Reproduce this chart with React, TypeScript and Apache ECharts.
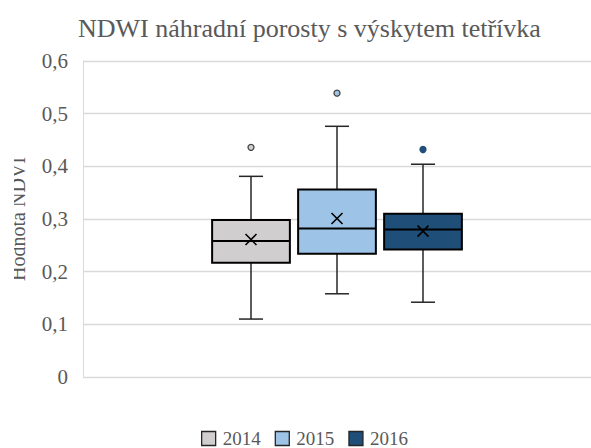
import React, { useEffect, useRef } from 'react';
import * as echarts from 'echarts';

// ---- data ----
const years = ['2014', '2015', '2016'];
const whiskerMin = [0.11, 0.158, 0.142];
const quartile1 = [0.217, 0.234, 0.242];
const medians = [0.258, 0.282, 0.28];
const quartile3 = [0.298, 0.356, 0.31];
const whiskerMax = [0.381, 0.476, 0.404];
const means = [0.261, 0.301, 0.277];
const outliers = [0.436, 0.539, 0.432];
const yMin = 0;
const yMax = 0.6;
const yStep = 0.1;

const fills = ['#D0CECE', '#9DC3E6', '#1F4E79'];
const outlineOutlier = ['#404040', '#404040', '#1F4E79'];

const SERIF = '"Liberation Serif", "Times New Roman", serif';
const GRAY = '#595959';
const GRID_COLOR = '#D9D9D9';

const renderBox = (params: any, api: any) => {
  const x = api.value(0);
  const band = api.size([1, 0])[0];
  const half = band * 0.452;
  const cap = band * 0.14;
  const pt = (i: number) => api.coord([x, api.value(i)]);
  const pMin = pt(1);
  const pQ1 = pt(2);
  const pMed = pt(3);
  const pQ3 = pt(4);
  const pMax = pt(5);
  const pMean = pt(6);
  const pOut = pt(7);
  const cx = pMed[0];
  const fill = api.visual('color');
  const si = params.seriesIndex;
  const wStyle = { stroke: '#262626', lineWidth: 1.5 };
  const m = 5.5;
  return {
    type: 'group',
    children: [
      { type: 'line', shape: { x1: cx, y1: pMax[1], x2: cx, y2: pQ3[1] }, style: wStyle },
      { type: 'line', shape: { x1: cx, y1: pQ1[1], x2: cx, y2: pMin[1] }, style: wStyle },
      { type: 'line', shape: { x1: cx - cap, y1: pMax[1], x2: cx + cap, y2: pMax[1] }, style: wStyle },
      { type: 'line', shape: { x1: cx - cap, y1: pMin[1], x2: cx + cap, y2: pMin[1] }, style: wStyle },
      {
        type: 'rect',
        shape: { x: cx - half, y: pQ3[1], width: half * 2, height: pQ1[1] - pQ3[1] },
        style: { fill, stroke: '#000', lineWidth: 2 },
      },
      {
        type: 'line',
        shape: { x1: cx - half, y1: pMed[1], x2: cx + half, y2: pMed[1] },
        style: { stroke: '#000', lineWidth: 2 },
      },
      {
        type: 'line',
        shape: { x1: pMean[0] - m, y1: pMean[1] - m, x2: pMean[0] + m, y2: pMean[1] + m },
        style: { stroke: '#000', lineWidth: 1.6 },
      },
      {
        type: 'line',
        shape: { x1: pMean[0] - m, y1: pMean[1] + m, x2: pMean[0] + m, y2: pMean[1] - m },
        style: { stroke: '#000', lineWidth: 1.6 },
      },
      {
        type: 'circle',
        shape: { cx: pOut[0], cy: pOut[1], r: 3 },
        style: { fill, stroke: outlineOutlier[si], lineWidth: 1.3 },
      },
    ],
  };
};

export default function App() {
  const ref = useRef<HTMLDivElement>(null);

  useEffect(() => {
    if (!ref.current) return;
    const chart = echarts.init(ref.current, undefined, { renderer: 'svg' });

    const series: any[] = years.map((y, i) => ({
      name: y,
      type: 'custom',
      xAxisIndex: 1,
      yAxisIndex: 1,
      itemStyle: { color: fills[i] },
      encode: { x: 0, y: [1, 2, 3, 4, 5, 6, 7] },
      renderItem: renderBox,
      data: [[i, whiskerMin[i], quartile1[i], medians[i], quartile3[i], whiskerMax[i], means[i], outliers[i]]],
      z: 2,
    }));

    chart.setOption({
      animation: false,
      backgroundColor: '#fff',
      title: {
        text: 'NDWI náhradní porosty s výskytem tetřívka',
        left: 73,
        top: 10,
        textStyle: { fontFamily: SERIF, fontSize: 26, fontWeight: 'normal', color: GRAY },
      },
      legend: {
        data: years,
        left: 196,
        top: 424,
        padding: [5, 5, 5, 5],
        itemWidth: 14,
        itemHeight: 14,
        itemGap: 14,
        icon: 'rect',
        itemStyle: { borderColor: '#262626', borderWidth: 1.3 },
        textStyle: { fontFamily: SERIF, fontSize: 19, lineHeight: 19, color: GRAY, padding: [0, 0, 0, 2] },
      },
      grid: [
        { left: 81, right: 0, top: 61, bottom: 71 },
        { left: 208, width: 258, top: 61, bottom: 71 },
      ],
      xAxis: [
        { type: 'category', gridIndex: 0, data: [''], show: false },
        { type: 'category', gridIndex: 1, data: years, show: false },
      ],
      yAxis: [
        {
          type: 'value',
          gridIndex: 0,
          min: yMin,
          max: yMax,
          interval: yStep,
          name: 'Hodnota NDVI',
          nameLocation: 'middle',
          nameRotate: 90,
          nameGap: 55,
          nameTextStyle: { fontFamily: SERIF, fontSize: 20, color: GRAY },
          axisLine: { show: true, lineStyle: { color: GRID_COLOR, width: 1 } },
          axisTick: { show: false },
          axisLabel: {
            fontFamily: SERIF,
            fontSize: 21,
            color: GRAY,
            margin: 15,
            formatter: (v: number) => (Math.round(v * 10) / 10).toString().replace('.', ','),
          },
          splitLine: { show: true, lineStyle: { color: GRID_COLOR, width: 1.3 } },
        },
        { type: 'value', gridIndex: 1, min: yMin, max: yMax, interval: yStep, show: false, splitLine: { show: false } },
      ],
      graphic: [
        {
          type: 'rect',
          z: 100,
          shape: { x: 0, y: 120, width: 14, height: 200 },
          style: { fill: '#fff' },
        },
      ],
      series,
    });

    return () => chart.dispose();
  }, []);

  return (
    <div
      ref={ref}
      style={{ position: 'absolute', left: 0, top: 0, width: 591, height: 448, background: '#fff' }}
    />
  );
}
